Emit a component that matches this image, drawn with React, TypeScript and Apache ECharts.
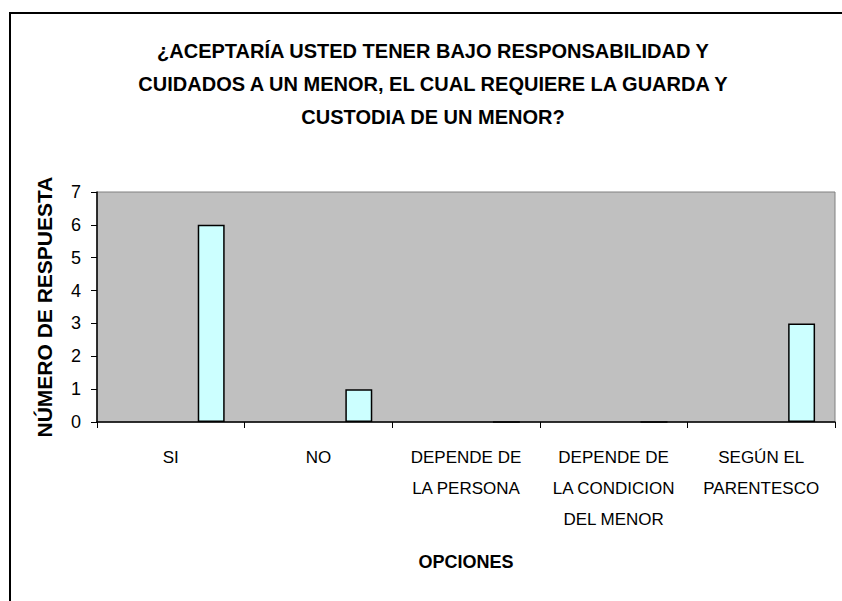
import React, { useEffect, useRef } from "react";
import * as echarts from "echarts";

const titleLines = [
  "¿ACEPTARÍA USTED TENER BAJO RESPONSABILIDAD Y",
  "CUIDADOS A UN MENOR, EL CUAL REQUIERE LA GUARDA Y",
  "CUSTODIA DE UN MENOR?",
];
const categories = [
  "SI",
  "NO",
  "DEPENDE DE\nLA PERSONA",
  "DEPENDE DE\nLA CONDICION\nDEL MENOR",
  "SEGÚN EL\nPARENTESCO",
];
const respuestas = [6, 1, 0, 0, 3];
const yTicks = { min: 0, max: 7, interval: 1 };
const xAxisName = "OPCIONES";
const yAxisName = "NÚMERO DE RESPUESTA";

const FONT = "'Liberation Sans', Arial, sans-serif";

export default function App() {
  const ref = useRef<HTMLDivElement>(null);
  useEffect(() => {
    if (!ref.current) return;
    const chart = echarts.init(ref.current, undefined, { renderer: "svg" });
    const placeholder = { type: "bar" as const, data: [] as number[], silent: true };
    chart.setOption({
      animation: false,
      backgroundColor: "#ffffff",
      title: {
        text: titleLines.join("\n"),
        left: 428,
        top: 29,
        textAlign: "center",
        textStyle: {
          fontFamily: FONT,
          fontWeight: "bold",
          fontSize: 20,
          lineHeight: 33,
          color: "#000",
        },
      },
      graphic: [
        {
          type: "rect",
          shape: { x: 10, y: 13, width: 900, height: 700 },
          style: { fill: "none", stroke: "#000", lineWidth: 2 },
          silent: true,
        },
      ],
      grid: {
        left: 97,
        top: 192,
        right: 7,
        bottom: 179,
        show: true,
        backgroundColor: "#C0C0C0",
        borderColor: "#808080",
        borderWidth: 1,
      },
      xAxis: {
        type: "category",
        data: categories,
        name: xAxisName,
        nameLocation: "middle",
        nameGap: 131,
        nameTextStyle: {
          fontFamily: FONT,
          fontWeight: "bold",
          fontSize: 18,
          color: "#000",
        },
        axisLine: { lineStyle: { color: "#000", width: 1.5 } },
        axisTick: { show: true, length: 6, lineStyle: { color: "#000" } },
        axisLabel: {
          interval: 0,
          margin: 20,
          fontFamily: FONT,
          fontSize: 17,
          lineHeight: 31,
          color: "#000",
        },
        splitLine: { show: false },
      },
      yAxis: {
        type: "value",
        min: yTicks.min,
        max: yTicks.max,
        interval: yTicks.interval,
        name: yAxisName,
        nameLocation: "middle",
        nameRotate: 90,
        nameGap: 42,
        nameTextStyle: {
          fontFamily: FONT,
          fontWeight: "bold",
          fontSize: 21,
          color: "#000",
        },
        axisLine: { show: true, lineStyle: { color: "#000", width: 1.5 } },
        axisTick: { show: true, length: 6, lineStyle: { color: "#000" } },
        axisLabel: {
          margin: 16,
          fontFamily: FONT,
          fontSize: 18,
          color: "#000",
        },
        splitLine: { show: false },
      },
      series: [
        { ...placeholder, name: "s1" },
        { ...placeholder, name: "s2" },
        { ...placeholder, name: "s3" },
        {
          type: "bar",
          name: "Respuestas",
          data: respuestas,
          barGap: "0%",
          barCategoryGap: "27%",
          itemStyle: { color: "#CCFFFF", borderColor: "#000", borderWidth: 1.5 },
        },
      ],
    });
    return () => chart.dispose();
  }, []);
  return (
    <div
      ref={ref}
      style={{ position: "absolute", left: 0, top: 0, width: 842, height: 601 }}
    />
  );
}
